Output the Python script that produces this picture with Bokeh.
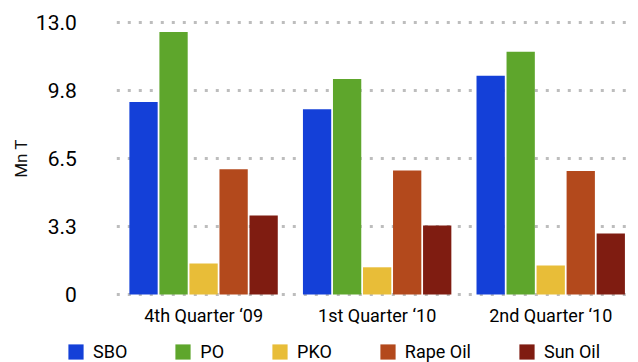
from bokeh.plotting import figure
from bokeh.models import (ColumnDataSource, Range1d, FixedTicker, Legend, LegendItem)
from bokeh.transform import dodge
from bokeh.embed import file_html
from bokeh.resources import INLINE

groups = ["4th Quarter \u201809", "1st Quarter \u201810", "2nd Quarter \u201810"]
series = ["SBO", "PO", "PKO", "Rape Oil", "Sun Oil"]
sbo = [9.2, 8.85, 10.45]
po = [12.55, 10.3, 11.6]
pko = [1.48, 1.3, 1.38]
rape = [5.98, 5.92, 5.9]
sun = [3.78, 3.3, 2.92]
y_ticks = [0.0, 3.25, 6.5, 9.75, 13.0]
y_tick_labels = ["0", "3.3", "6.5", "9.8", "13.0"]

colors = ["#1440d8", "#5ea62c", "#e8bd38", "#b3491c", "#7f1c11"]
FONT = "Roboto"

idx = list(range(len(groups)))
src = ColumnDataSource(dict(i=idx, SBO=sbo, PO=po, PKO=pko, Rape=rape, Sun=sun))
cols = ["SBO", "PO", "PKO", "Rape", "Sun"]

X0, X1 = -1.17, 2.5
p = figure(width=638, height=362, x_range=Range1d(X0, X1),
           y_range=Range1d(-3.25, 14.05), output_backend="svg", toolbar_location=None,
           min_border_left=0, min_border_right=1, min_border_top=0,
           min_border_bottom=0)
p.outline_line_color = None
p.xgrid.visible = False
p.ygrid.visible = False

# dotted gridlines at the y ticks, spanning the plotted categories
grid_src = ColumnDataSource(dict(y=y_ticks, x0=[-0.5] * len(y_ticks), x1=[X1 - 0.03] * len(y_ticks)))
p.segment(x0="x0", x1="x1", y0="y", y1="y", source=grid_src,
          line_color="#bdbdbd", line_width=3, line_dash="3 8", line_cap="butt")

offsets = [-0.346, -0.173, 0.0, 0.173, 0.346]
renderers = []
for c, off, col in zip(cols, offsets, colors):
    r = p.vbar(x=dodge("i", off), top=c, width=0.163, source=src,
               fill_color=col, line_color=None)
    renderers.append(r)

yax = p.yaxis[0]
yax.fixed_location = -0.5
yax.bounds = (0, 13)
yax.ticker = FixedTicker(ticks=y_ticks)
yax.major_label_overrides = {t: s for t, s in zip(y_ticks, y_tick_labels)}
yax.axis_line_color = None
yax.major_tick_line_color = None
yax.minor_tick_line_color = None
yax.major_label_standoff = 34
yax.major_label_text_font = FONT
yax.major_label_text_font_size = "21px"
yax.major_label_text_color = "#000000"
yax.axis_label = "Mn T"
yax.axis_label_text_font = FONT
yax.axis_label_text_font_style = "normal"
yax.axis_label_text_font_size = "17px"
yax.axis_label_text_color = "#111111"
yax.axis_label_standoff = 2

xax = p.xaxis[0]
xax.fixed_location = 0
xax.ticker = FixedTicker(ticks=idx)
xax.major_label_overrides = {i: g for i, g in zip(idx, groups)}
xax.axis_line_color = None
xax.major_tick_line_color = None
xax.minor_tick_line_color = None
xax.major_label_standoff = 5
xax.major_label_text_font = FONT
xax.major_label_text_font_size = "18px"
xax.major_label_text_color = "#000000"

legend = Legend(items=[LegendItem(label=s, renderers=[r]) for s, r in zip(series, renderers)],
                orientation="horizontal", location=(66, 0))
legend.label_text_font = FONT
legend.label_text_font_size = "18px"
legend.label_text_color = "#000000"
legend.glyph_width = 19
legend.glyph_height = 19
legend.label_standoff = 8
legend.spacing = 46
legend.padding = 0
legend.margin = 0
legend.border_line_color = None
legend.background_fill_alpha = 0
p.add_layout(legend)

open("out.html", "w").write(file_html(p, INLINE))
